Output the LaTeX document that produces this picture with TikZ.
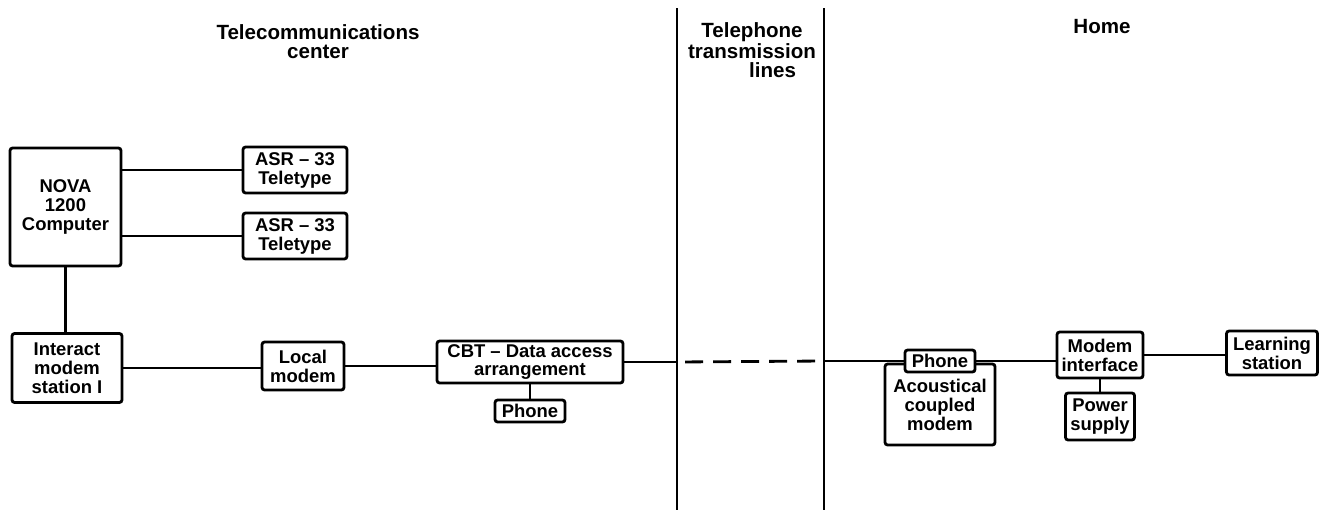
\documentclass[tikz,border=0pt]{standalone}
\usepackage{fontspec}
\setmainfont{Liberation Sans}
\usepackage{tikz}
\usetikzlibrary{positioning, calc}
\tikzstyle{line} = [draw, line width=1.6pt]
\tikzstyle{block} = [rectangle, draw, line width=1.6pt, rounded corners=1.5pt, fill=white, align=center, inner sep=1pt, font=\fontsize{10.5}{10.8}\selectfont\bfseries]
\tikzstyle{heading} = [align=center, inner sep=0pt, font=\fontsize{11.7}{10.8}\selectfont\bfseries]

\begin{document}
\begin{tikzpicture}[x=0.2mm, y=-0.2mm]
        \useasboundingbox (0,0) rectangle (1321,510);

        % telecommunications center
        \node [heading] (telecom) at (318,42) {Telecommunications\\center};
        \node [block, minimum width=22.2mm, minimum height=23.6mm] (nova) at (65.5,207) {NOVA\\1200\\Computer};
        \node [block, minimum width=20.8mm, minimum height=9.2mm] (asra) at (295,170) {ASR -- 33\\Teletype};
        \node [block, minimum width=20.8mm, minimum height=9.2mm, below of=asra, node distance=13.2mm] (asrb) {ASR -- 33\\Teletype};
        \node [block, minimum width=22mm, minimum height=13.8mm] (interact) at (67,368) {Interact\\modem\\station I};
        \node [block, minimum width=16.4mm, minimum height=9.6mm] (localmodem) at (303,366) {Local\\modem};
        \node [block, minimum width=37.2mm, minimum height=8.4mm] (dataaccess) at (530,362) {CBT -- Data access\\arrangement};
        \node [block, minimum width=14mm, minimum height=4.4mm, below of=dataaccess, node distance=9.8mm] (cbtphone) {Phone};

        % telephone transmission lines
        \node [heading] (trans) at (752,50) {Telephone\\transmission\\\hspace*{2em}lines};
        \coordinate (lefttop) at (677,8);
        \coordinate (leftbot) at (677,510);
        \coordinate (righttop) at (824,8);
        \coordinate (rightbot) at (824,510);

        % home
        \node [heading] (home) at (1102,27) {Home};
        \node [block, minimum width=22mm, minimum height=16.2mm] (coupler) at (940,404.5) {Acoustical\\coupled\\modem};
        \node [block, minimum width=14mm, minimum height=4.4mm] (homephone) at (940,361) {Phone};
        \node [block, minimum width=17.2mm, minimum height=9.2mm] (interface) at (1100,355) {Modem\\interface};
        \node [block, minimum width=13.8mm, minimum height=9.4mm, below of=interface, node distance=12.3mm] (power) {Power\\supply};
        \node [block, minimum width=18.2mm, minimum height=8.8mm] (learning) at (1272,353) {Learning\\station};

        \path [line] (lefttop) -- (leftbot);
        \path [line] (righttop) -- (rightbot);

        \path [line] (asra.west -| nova.east) -- (asra.west);
        \path [line] (asrb.west -| nova.east) -- (asrb.west);
        \path [line] (nova.south) -- (nova.south |- interact.north);
        \path [line] (interact.east) -- (interact.east -| localmodem.west);
        \path [line] (localmodem.east) -- (localmodem.east -| dataaccess.west);
        \path [line] (dataaccess.south) -- (cbtphone.north);
        \path [line] (dataaccess.east) -- (dataaccess.east -| lefttop);
        \path [line, dash pattern=on 3.6mm off 2mm, dash phase=4mm] (dataaccess.east -| lefttop) -- (homephone.west -| righttop);
        \path [line] (homephone.west -| righttop) -- (homephone.west);
        \path [line] (homephone.east) -- (homephone.east -| interface.west);
        \path [line] (interface.south) -- (power.north);
        \path [line] (interface.east) -- (interface.east -| learning.west);
    \end{tikzpicture}
\end{document}
